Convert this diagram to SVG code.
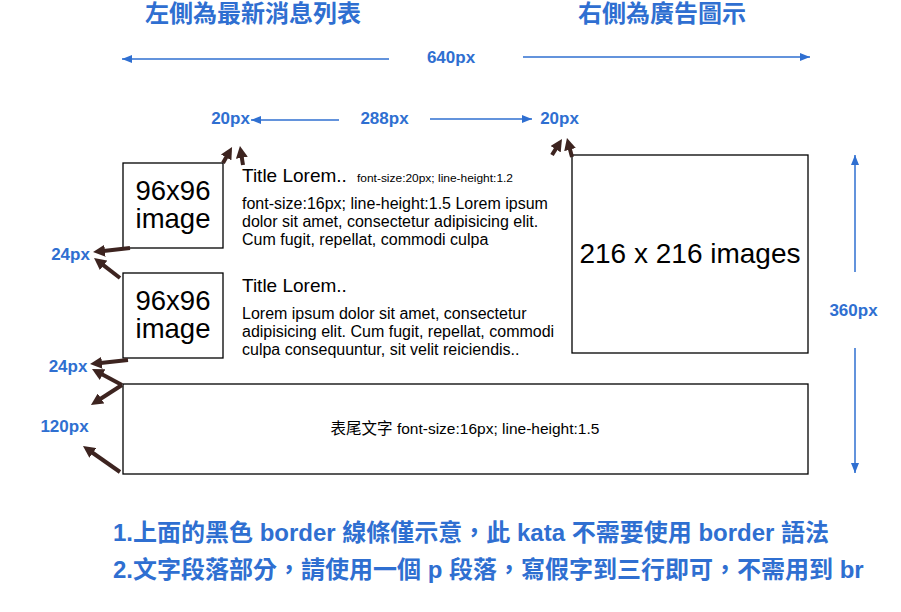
<svg xmlns="http://www.w3.org/2000/svg" width="901" height="612" viewBox="0 0 901 612">
<style>
.bg{fill:#ffffff}
.box{fill:#ffffff;stroke:#000000;stroke-width:1.3}
.blue{fill:#2f6fd1;font-family:"Liberation Sans","Noto Sans CJK TC",sans-serif;font-weight:bold}
.lbl{font-size:17px;text-anchor:middle}
.head{font-size:24px;text-anchor:middle}
.note{font-size:24px}
.txt{fill:#000000;font-family:"Liberation Sans","Noto Sans CJK TC",sans-serif}
.big{font-size:27.5px;text-anchor:middle}
.title{font-size:19px}
.small{font-size:11px}
.body{font-size:16px}
.foot{font-size:15.5px;text-anchor:middle}
.bl{stroke:#2f6fd1;stroke-width:1.5;fill:none;marker-end:url(#bh)}
.br{stroke:#3d2420;stroke-width:4;fill:none;marker-end:url(#rh)}
</style>
<defs>
<marker id="bh" viewBox="0 0 10 8" markerUnits="userSpaceOnUse" markerWidth="10" markerHeight="8" refX="10" refY="4" orient="auto">
<path d="M0,0 L10,4 L0,8 z" fill="#2f6fd1"/>
</marker>
<marker id="rh" viewBox="0 0 12 12" markerUnits="userSpaceOnUse" markerWidth="12" markerHeight="12" refX="6" refY="6" orient="auto">
<path d="M0,0 L12,6 L0,12 z" fill="#3d2420"/>
</marker>
</defs>
<rect class="bg" x="0" y="0" width="901" height="612"/>

<g id="headings">
<text class="blue head" x="253" y="22">左側為最新消息列表</text>
<text class="blue head" x="662" y="22">右側為廣告圖示</text>
</g>

<g id="labels">
<text class="blue lbl" x="451" y="63">640px</text>
<text class="blue lbl" x="230.5" y="124">20px</text>
<text class="blue lbl" x="384.5" y="124">288px</text>
<text class="blue lbl" x="559.5" y="124">20px</text>
<text class="blue lbl" x="853.5" y="316">360px</text>
<text class="blue lbl" x="70.5" y="260">24px</text>
<text class="blue lbl" x="68" y="371.5">24px</text>
<text class="blue lbl" x="64.5" y="432">120px</text>
</g>

<g id="item1">
<rect class="box" x="123" y="163" width="100" height="85"/>
<text class="txt big" x="173" y="200">96x96</text>
<text class="txt big" x="173" y="228">image</text>
<text class="txt title" x="242" y="182">Title Lorem..</text>
<text class="txt small" x="357" y="182" textLength="156" lengthAdjust="spacingAndGlyphs">font-size:20px; line-height:1.2</text>
<text class="txt body" x="242" y="209">font-size:16px; line-height:1.5 Lorem ipsum</text>
<text class="txt body" x="242" y="227">dolor sit amet, consectetur adipisicing elit.</text>
<text class="txt body" x="242" y="245">Cum fugit, repellat, commodi culpa</text>
</g>

<g id="item2">
<rect class="box" x="123" y="273" width="100" height="85"/>
<text class="txt big" x="173" y="310">96x96</text>
<text class="txt big" x="173" y="338">image</text>
<text class="txt title" x="242" y="292">Title Lorem..</text>
<text class="txt body" x="242" y="319">Lorem ipsum dolor sit amet, consectetur</text>
<text class="txt body" x="242" y="337">adipisicing elit. Cum fugit, repellat, commodi</text>
<text class="txt body" x="242" y="355">culpa consequuntur, sit velit reiciendis..</text>
</g>

<g id="ad">
<rect class="box" x="572" y="155" width="236" height="198"/>
<text class="txt" x="690" y="263" font-size="28" text-anchor="middle">216 x 216 images</text>
</g>

<g id="footer">
<rect class="box" x="123" y="384" width="685" height="90"/>
<text class="txt foot" x="465" y="434">表尾文字 font-size:16px; line-height:1.5</text>
</g>

<g id="connectors">
<line class="bl" x1="389" y1="59" x2="122" y2="59"/>
<line class="bl" x1="523" y1="57" x2="810" y2="57"/>
<line class="bl" x1="339" y1="120" x2="251" y2="120"/>
<line class="bl" x1="430" y1="119" x2="532" y2="119"/>
<line class="bl" x1="855" y1="272" x2="855" y2="155"/>
<line class="bl" x1="855" y1="348" x2="855" y2="473"/>

<line class="br" x1="223" y1="163" x2="229.1" y2="152.2"/>
<line class="br" x1="243" y1="165" x2="240.9" y2="151.9"/>
<line class="br" x1="552" y1="155" x2="558.8" y2="144.1"/>
<line class="br" x1="572" y1="157" x2="568.5" y2="143.8"/>
<line class="br" x1="130" y1="248" x2="99" y2="251.4"/>
<line class="br" x1="120" y1="278" x2="98.8" y2="261.7"/>
<line class="br" x1="128" y1="360" x2="96" y2="363.4"/>
<line class="br" x1="122" y1="385" x2="97.3" y2="371.8"/>
<line class="br" x1="122" y1="385" x2="96" y2="401.7"/>
<line class="br" x1="120" y1="472" x2="87.9" y2="449.5"/>
</g>

<g id="notes">
<text class="blue note" x="113" y="541">1.上面的黑色 border 線條僅示意，此 kata 不需要使用 border 語法</text>
<text class="blue note" x="113" y="578">2.文字段落部分，請使用一個 p 段落，寫假字到三行即可，不需用到 br</text>
</g>
</svg>
